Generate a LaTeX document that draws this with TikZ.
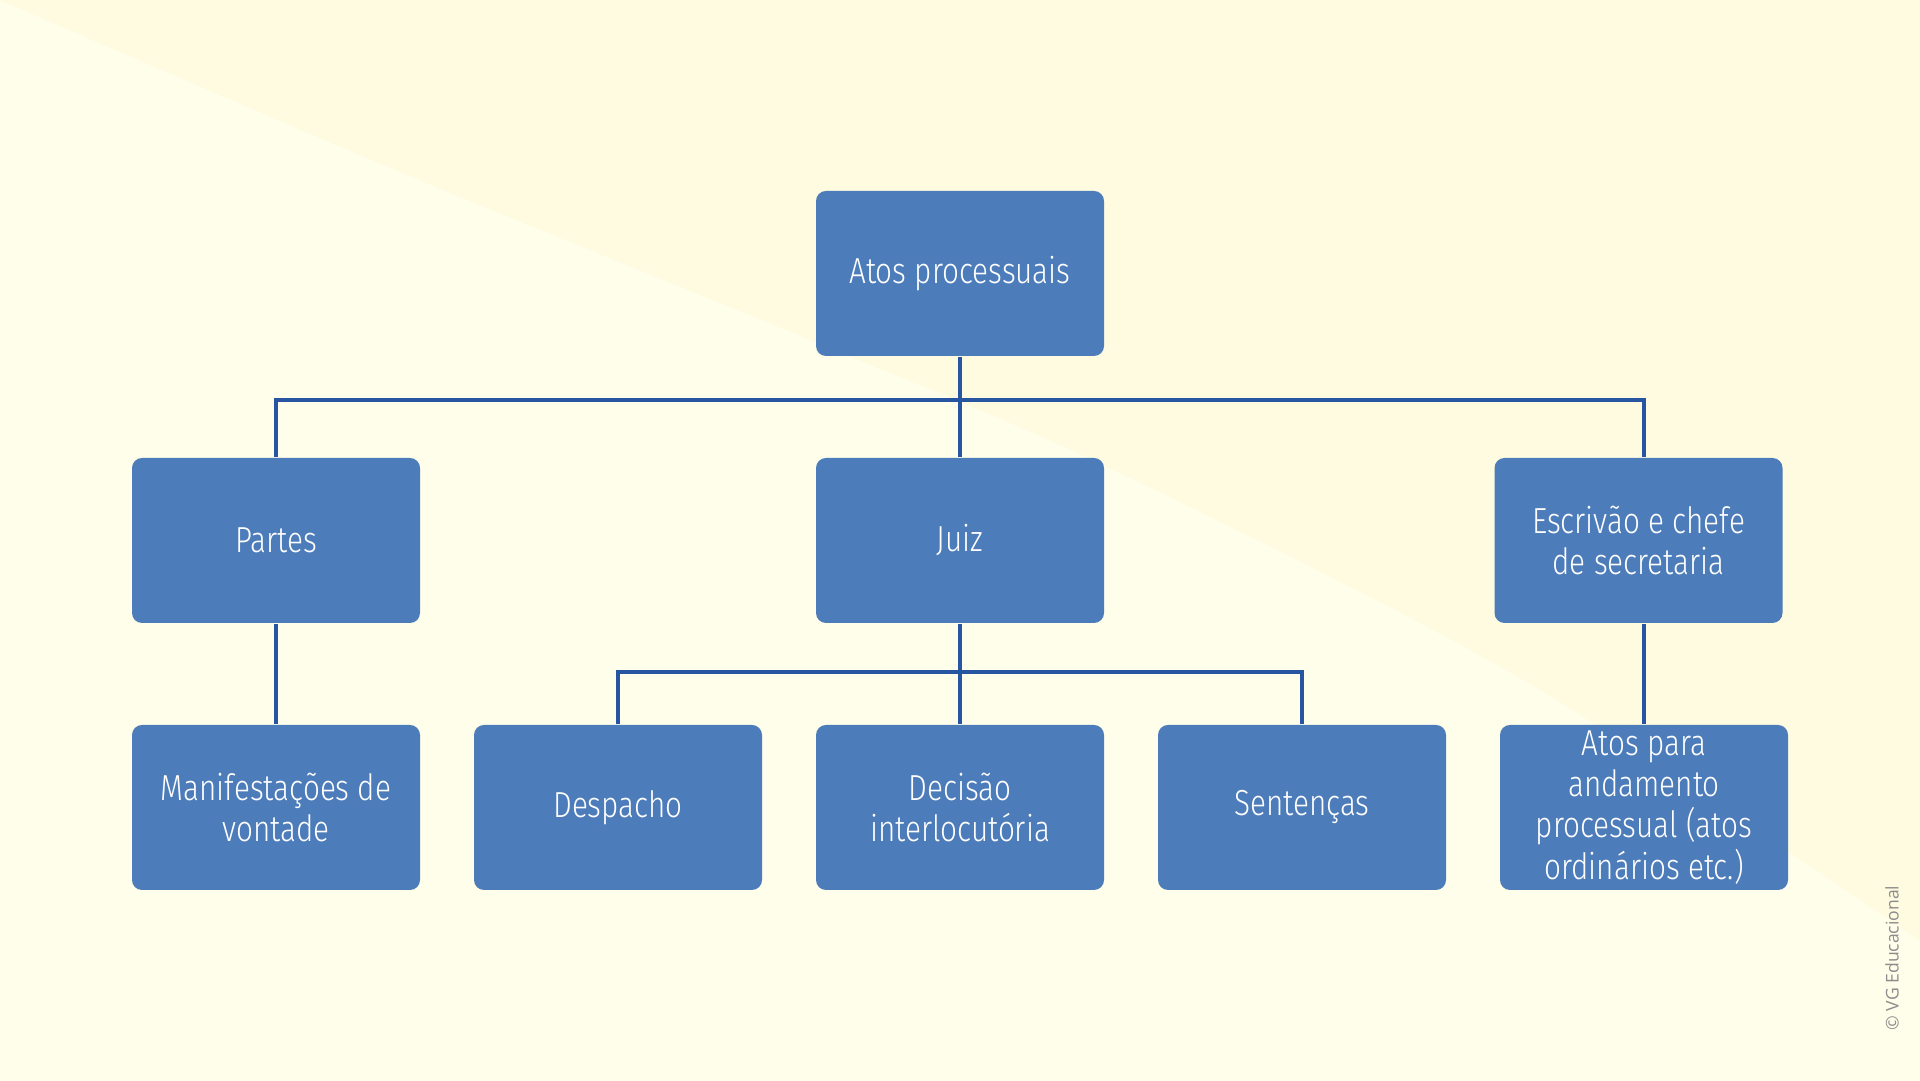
\documentclass[tikz,border=0pt]{standalone}
\usepackage{fontspec}
\usepackage{tikz}
\usetikzlibrary{positioning, backgrounds}
\newfontfamily\boxfont[FakeStretch=0.82]{Fira Sans Light}
\newfontfamily\notefont{Open Sans}
\definecolor{bglight}{HTML}{FEFEEB}
\definecolor{bgdark}{HTML}{FEFBE1}
\definecolor{boxblue}{HTML}{4D7CBA}
\definecolor{linkblue}{HTML}{2855A2}
\tikzset{
  ato/.style={draw=none, fill=boxblue, rounded corners=0.1cm, minimum width=2.88cm,
    minimum height=1.65cm, inner sep=0pt, align=center, text=white,
    font=\boxfont\fontsize{10.3}{11.7}\selectfont},
  link/.style={draw=linkblue, line width=0.9pt}
}

\begin{document}
\begin{tikzpicture}
    \useasboundingbox (0,0) rectangle (19.2,10.81);
    \fill[bglight] (0,0) rectangle (19.2,10.81);
    \fill[bgdark] plot[smooth] coordinates {(0,10.81) (4,9.09) (8.15,7.39) (11.03,6.16) (15.2,4.03) (19.2,1.40)}
        -- (19.2,10.81) -- cycle;

    \node[ato] (top) at (9.6,8.075) {Atos processuais};

    \node[ato] (partes) at (2.76,5.405) {Partes};
    \node[ato] (juiz) at (9.6,5.405) {Juiz};
    \node[ato] (esc) at (16.385,5.405) {Escrivão e chefe\\de secretaria};

    \node[ato] (man) at (2.76,2.735) {Manifestações de\\vontade};
    \node[ato] (desp) at (6.18,2.735) {Despacho};
    \node[ato] (dec) at (9.6,2.735) {Decisão\\interlocutória};
    \node[ato] (sent) at (13.02,2.735) {Sentenças};
    \node[ato] (ord) at (16.44,2.735) {Atos para\\andamento\\processual (atos\\ordinários etc.)};

    \coordinate (bar1) at (9.6,6.81);
    \coordinate (bar2) at (9.6,4.09);

    \draw[link] (top.south) -- (juiz.north);
    \draw[link] (partes.north) |- (bar1) -| (esc.north -| ord.north);
    \draw[link] (partes.south) -- (man.north);
    \draw[link] (juiz.south) -- (dec.north);
    \draw[link] (desp.north) |- (bar2) -| (sent.north);
    \draw[link] (esc.south -| ord.north) -- (ord.north);

    \node[rotate=90, text=black!45, font=\notefont\fontsize{5}{6}\selectfont] (copy) at (18.92,1.23) {© VG Educacional};
\end{tikzpicture}
\end{document}
